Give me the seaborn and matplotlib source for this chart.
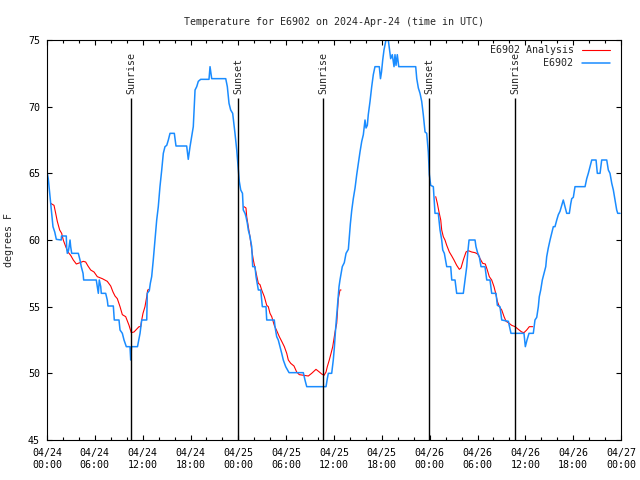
"""Temperature for E6902: observation (E6902) and analysis, with sunrise/sunset marks."""
import matplotlib
matplotlib.use("Agg")
import matplotlib.dates as mdates
import matplotlib.pyplot as plt
from matplotlib.lines import Line2D
import pandas as pd
import seaborn as sns

START = pd.Timestamp("2024-04-24 00:00")

# E6902 observations: hours since 04/24 00:00 UTC, degrees F
OBS_HOURS = [
    0.04, 0.16, 0.34, 0.46, 0.59, 0.75, 0.97, 1.17, 1.79, 1.82, 2.42, 2.47, 2.55, 2.70, 2.89,
    2.97, 3.10, 3.93, 4.14, 4.30, 4.52, 4.60, 6.18, 6.31, 6.44, 6.56, 6.74, 6.81, 7.36, 7.56,
    7.65, 8.32, 8.44, 9.03, 9.16, 9.45, 9.66, 9.95, 10.41, 10.50, 10.60, 11.35, 11.67, 11.88,
    12.51, 12.58, 12.83, 12.96, 13.13, 13.33, 13.55, 13.76, 13.96, 14.17, 14.39, 14.59, 14.80,
    15.02, 15.22, 15.43, 15.97, 16.18, 17.52, 17.72, 17.94, 18.15, 18.35, 18.57, 18.78, 18.98,
    19.28, 20.32, 20.45, 20.66, 22.42, 22.62, 22.83, 23.04, 23.29, 23.58, 23.80, 24.00, 24.12,
    24.30, 24.52, 24.62, 24.84, 24.96, 25.13, 25.25, 25.46, 25.68, 25.80, 26.09, 26.22, 26.51,
    26.81, 27.01, 27.47, 27.56, 28.51, 28.60, 28.81, 29.01, 29.23, 29.44, 29.64, 29.94, 30.36,
    32.15, 32.36, 32.58, 35.00, 35.16, 35.29, 35.71, 35.91, 36.04, 36.21, 36.42, 36.63, 36.75,
    37.04, 37.29, 37.51, 37.80, 37.92, 38.05, 38.22, 38.42, 38.64, 38.85, 39.05, 39.26, 39.48,
    39.68, 39.89, 40.02, 40.18, 40.30, 40.52, 40.73, 40.93, 41.14, 41.68, 41.83, 41.96, 42.11,
    42.27, 42.52, 42.81, 42.94, 43.11, 43.31, 43.53, 43.65, 43.78, 43.94, 44.12, 46.25, 46.38,
    46.58, 46.79, 47.00, 47.20, 47.42, 47.63, 47.83, 47.96, 48.13, 48.46, 48.67, 49.08, 49.30,
    49.51, 49.64, 49.84, 50.14, 50.64, 50.77, 51.18, 51.39, 52.22, 52.43, 52.65, 52.77, 52.94,
    53.69, 53.81, 54.03, 54.23, 54.44, 54.94, 55.16, 55.57, 55.78, 56.32, 56.49, 56.82, 57.04,
    57.87, 58.20, 59.83, 60.00, 60.21, 60.46, 61.00, 61.21, 61.43, 61.63, 61.75, 61.93, 62.13,
    62.34, 62.56, 62.68, 62.88, 63.10, 63.31, 63.51, 63.72, 63.94, 64.14, 64.35, 64.56, 64.76,
    64.98, 65.19, 65.52, 65.69, 65.82, 66.02, 66.23, 67.49, 67.70, 67.90, 68.11, 68.33, 68.87,
    69.03, 69.37, 69.58, 70.21, 70.41, 70.62, 70.84, 71.04, 71.25, 71.46, 71.59, 71.88,
]
OBS_TEMP = [
    65.0, 64.6, 63.5, 62.75, 62.0, 61.0, 60.6, 60.05, 60.0, 60.3, 60.3, 59.4, 59.0, 59.2, 60.0,
    59.5, 59.0, 59.0, 58.5, 58.0, 57.5, 57.0, 57.0, 56.5, 56.0, 57.0, 56.5, 56.0, 56.0, 55.5,
    55.05, 55.05, 54.0, 54.0, 53.25, 53.0, 52.5, 52.0, 52.0, 51.0, 52.0, 52.0, 53.0, 54.0,
    54.0, 56.0, 56.2, 56.75, 57.25, 58.5, 60.0, 61.5, 62.5, 64.0, 65.25, 66.5, 67.0,
    67.1, 67.5, 68.0, 68.0, 67.05, 67.05, 66.05, 67.0, 67.75, 68.5, 71.25, 71.5, 71.9,
    72.05, 72.05, 73.0, 72.1, 72.1, 71.5, 70.25, 69.75, 69.5, 68.0, 66.75, 65.25, 64.4,
    63.75, 63.5, 62.25, 62.0, 61.75, 61.25, 60.75, 60.25, 59.5, 58.0, 58.0, 57.25, 56.25,
    56.25, 55.0, 55.0, 54.0, 54.0, 53.5, 52.75, 52.5, 52.0, 51.5, 51.0, 50.5, 50.05,
    50.05, 49.5, 49.0, 49.0, 49.6, 50.0, 50.0, 51.0, 51.9, 53.4, 55.0, 56.5, 57.0,
    58.0, 58.3, 59.0, 59.3, 60.25, 61.2, 62.2, 63.1, 63.9, 64.9, 65.75, 66.6, 67.4,
    67.9, 69.0, 68.4, 68.6, 69.4, 70.4, 71.5, 72.4, 73.0, 73.0, 72.1, 72.6, 73.5,
    74.25, 75.0, 75.0, 74.4, 73.6, 73.9, 73.0, 73.9, 73.1, 73.9, 73.0, 73.0, 72.1,
    71.4, 71.0, 70.4, 69.4, 68.1, 68.0, 66.6, 64.9, 64.1, 64.0, 62.0, 62.0, 60.75,
    60.0, 59.25, 59.0, 58.0, 58.0, 57.0, 57.0, 56.0, 56.0, 57.0, 58.0, 59.0, 60.0,
    60.0, 59.5, 59.0, 58.75, 58.0, 58.0, 57.0, 57.0, 56.0, 56.0, 55.1, 55.0, 54.0,
    53.9, 53.0, 53.0, 52.0, 52.5, 53.0, 53.0, 54.0, 54.2, 55.0, 55.75, 56.25, 57.0,
    57.5, 58.0, 58.75, 59.4, 60.0, 60.5, 61.0, 61.0, 61.5, 61.9, 62.15, 62.6, 63.0,
    62.5, 62.0, 62.0, 62.7, 63.1, 63.2, 64.0, 64.0, 64.6, 65.0, 65.5, 66.0, 66.0,
    65.0, 65.0, 66.0, 66.0, 65.25, 65.0, 64.25, 63.75, 63.0, 62.25, 62.0, 62.0,
]

# E6902 Analysis: three night-time segments
ANA1_HOURS = [
    0.46, 0.88, 1.09, 1.29, 1.59, 1.84, 2.04, 2.35, 2.63, 2.97, 3.30, 3.68, 4.14, 4.55, 4.85,
    5.14, 5.48, 5.90, 6.31, 6.94, 7.56, 7.99, 8.28, 8.53, 8.82, 9.16, 9.45, 9.87, 10.29, 10.57,
    10.91, 11.54, 11.75, 11.88, 12.04, 12.29, 12.51, 12.63, 12.83,
]
ANA1_TEMP = [
    62.75, 62.6, 62.0, 61.4, 60.75, 60.5, 60.0, 59.5, 59.1, 58.85, 58.5, 58.2, 58.3, 58.4, 58.35,
    58.05, 57.75, 57.6, 57.25, 57.1, 56.9, 56.55, 56.1, 55.8, 55.6, 55.0, 54.4, 54.25, 53.6, 53.05,
    53.1, 53.5, 53.5, 54.0, 54.5, 55.0, 55.75, 56.25, 56.3,
]
ANA2_HOURS = [
    24.71, 24.96, 25.05, 25.25, 25.46, 25.68, 25.88, 26.09, 26.31, 26.51, 26.72, 26.93, 27.26,
    27.56, 27.76, 27.97, 28.19, 28.51, 28.89, 29.14, 29.44, 29.77, 30.07, 30.27, 30.57, 30.98,
    31.32, 31.65, 32.78, 33.20, 33.74, 34.16, 34.46, 34.75, 35.00, 35.16, 35.41, 35.63, 35.84,
    36.13, 36.34, 36.54, 36.75, 36.88,
]
ANA2_TEMP = [
    62.5, 62.4, 61.75, 61.0, 60.25, 59.25, 58.5, 57.9, 57.3, 56.75, 56.65, 56.25, 55.75,
    55.1, 55.0, 54.5, 54.25, 53.6, 53.1, 52.75, 52.4, 52.0, 51.5, 51.0, 50.75, 50.55,
    50.1, 49.9, 49.8, 50.0, 50.3, 50.1, 49.95, 49.85, 50.1, 50.5, 51.0, 51.5, 52.0,
    53.1, 53.75, 55.6, 56.25, 56.25,
]
ANA3_HOURS = [
    48.76, 48.96, 49.17, 49.39, 49.51, 49.71, 49.92, 50.14, 50.47, 50.77, 51.05, 51.39, 51.72,
    51.93, 52.22, 52.56, 52.85, 53.27, 53.69, 54.03, 54.32, 54.65, 54.98, 55.23, 55.48, 55.78,
    56.07, 56.28, 56.49, 56.74, 57.04, 57.33, 57.58, 57.87, 58.29, 58.71, 59.12, 59.55, 59.83,
    60.17, 60.50, 60.93,
]
ANA3_TEMP = [
    63.25, 62.75, 62.1, 61.5, 60.75, 60.25, 60.0, 59.6, 59.1, 58.8, 58.5, 58.1, 57.8,
    57.9, 58.5, 59.1, 59.2, 59.1, 59.05, 58.95, 58.6, 58.25, 58.2, 57.75, 57.25, 57.0,
    56.5, 56.0, 55.4, 55.0, 54.75, 54.25, 53.9, 53.8, 53.6, 53.5, 53.3, 53.1, 53.05,
    53.25, 53.5, 53.5,
]

SUN_HOURS = [10.56, 24.00, 34.66, 47.96, 58.75]
SUN_LABELS = ["Sunrise", "Sunset", "Sunrise", "Sunset", "Sunrise"]

ROJO = "#ff0000"
AZUL = "#1a8cff"
FS = 7.2


def a_fecha(horas):
    return START + pd.to_timedelta(pd.Series(horas, dtype=float), unit="h")


sns.set_style("ticks")
plt.rcParams["font.family"] = ["DejaVu Sans Mono"]
plt.rcParams["font.size"] = FS
plt.rcParams["axes.edgecolor"] = "black"
plt.rcParams["axes.linewidth"] = 0.8

obs = pd.DataFrame({"time": a_fecha(OBS_HOURS), "temp": OBS_TEMP})
ana = pd.concat([
    pd.DataFrame({"time": a_fecha(h), "temp": t, "seg": i})
    for i, (h, t) in enumerate([(ANA1_HOURS, ANA1_TEMP), (ANA2_HOURS, ANA2_TEMP),
                                (ANA3_HOURS, ANA3_TEMP)])
], ignore_index=True)

fig = plt.figure(figsize=(6.4, 4.8), dpi=100)
ax = fig.add_axes([47 / 640, 40 / 480, 574 / 640, 400 / 480])

sns.lineplot(data=ana, x="time", y="temp", units="seg", estimator=None, sort=False,
             color=ROJO, linewidth=0.8, ax=ax)
sns.lineplot(data=obs, x="time", y="temp", estimator=None, sort=False,
             color=AZUL, linewidth=1.1, ax=ax)

# sunrise / sunset markers
sun_t = a_fecha(SUN_HOURS)
ax.vlines(sun_t, 45, 70.65, color="black", linewidth=1.0)
for t, lab in zip(sun_t, SUN_LABELS):
    ax.text(t, 70.95, lab, rotation=90, ha="center", va="bottom", fontsize=FS)

ax.set_xlim(START, START + pd.Timedelta(hours=72))
ax.set_ylim(45, 75)
ax.set_yticks(range(45, 76, 5))
ax.xaxis.set_major_locator(mdates.HourLocator(byhour=[0, 6, 12, 18]))
ax.xaxis.set_minor_locator(mdates.HourLocator(byhour=[2, 4, 8, 10, 14, 16, 20, 22]))
ax.xaxis.set_major_formatter(mdates.DateFormatter("%m/%d\n%H:%M"))
ax.tick_params(which="both", direction="in", top=True, right=True, colors="black",
               labelsize=FS)
ax.tick_params(which="major", length=3.5, width=0.8)
ax.tick_params(which="minor", length=2.0, width=0.8)
ax.tick_params(axis="x", pad=6)
ax.tick_params(axis="y", pad=5)

ax.set_xlabel("")
ax.set_ylabel("degrees F", fontsize=FS)
ax.yaxis.set_label_coords(-0.058, 0.5)
ax.set_title("Temperature for E6902 on 2024-Apr-24 (time in UTC)", fontsize=FS, pad=11)

handles = [Line2D([], [], color=ROJO, linewidth=0.8), Line2D([], [], color=AZUL, linewidth=1.1)]
ax.legend(handles, ["E6902 Analysis", "E6902"], loc="upper right",
          bbox_to_anchor=(1 - 6 / 574, 1.0), frameon=False,
          markerfirst=False, handlelength=2.8, handletextpad=0.8, labelspacing=0.3,
          borderaxespad=0.15, fontsize=FS)

fig.savefig("out.png", dpi=100)
